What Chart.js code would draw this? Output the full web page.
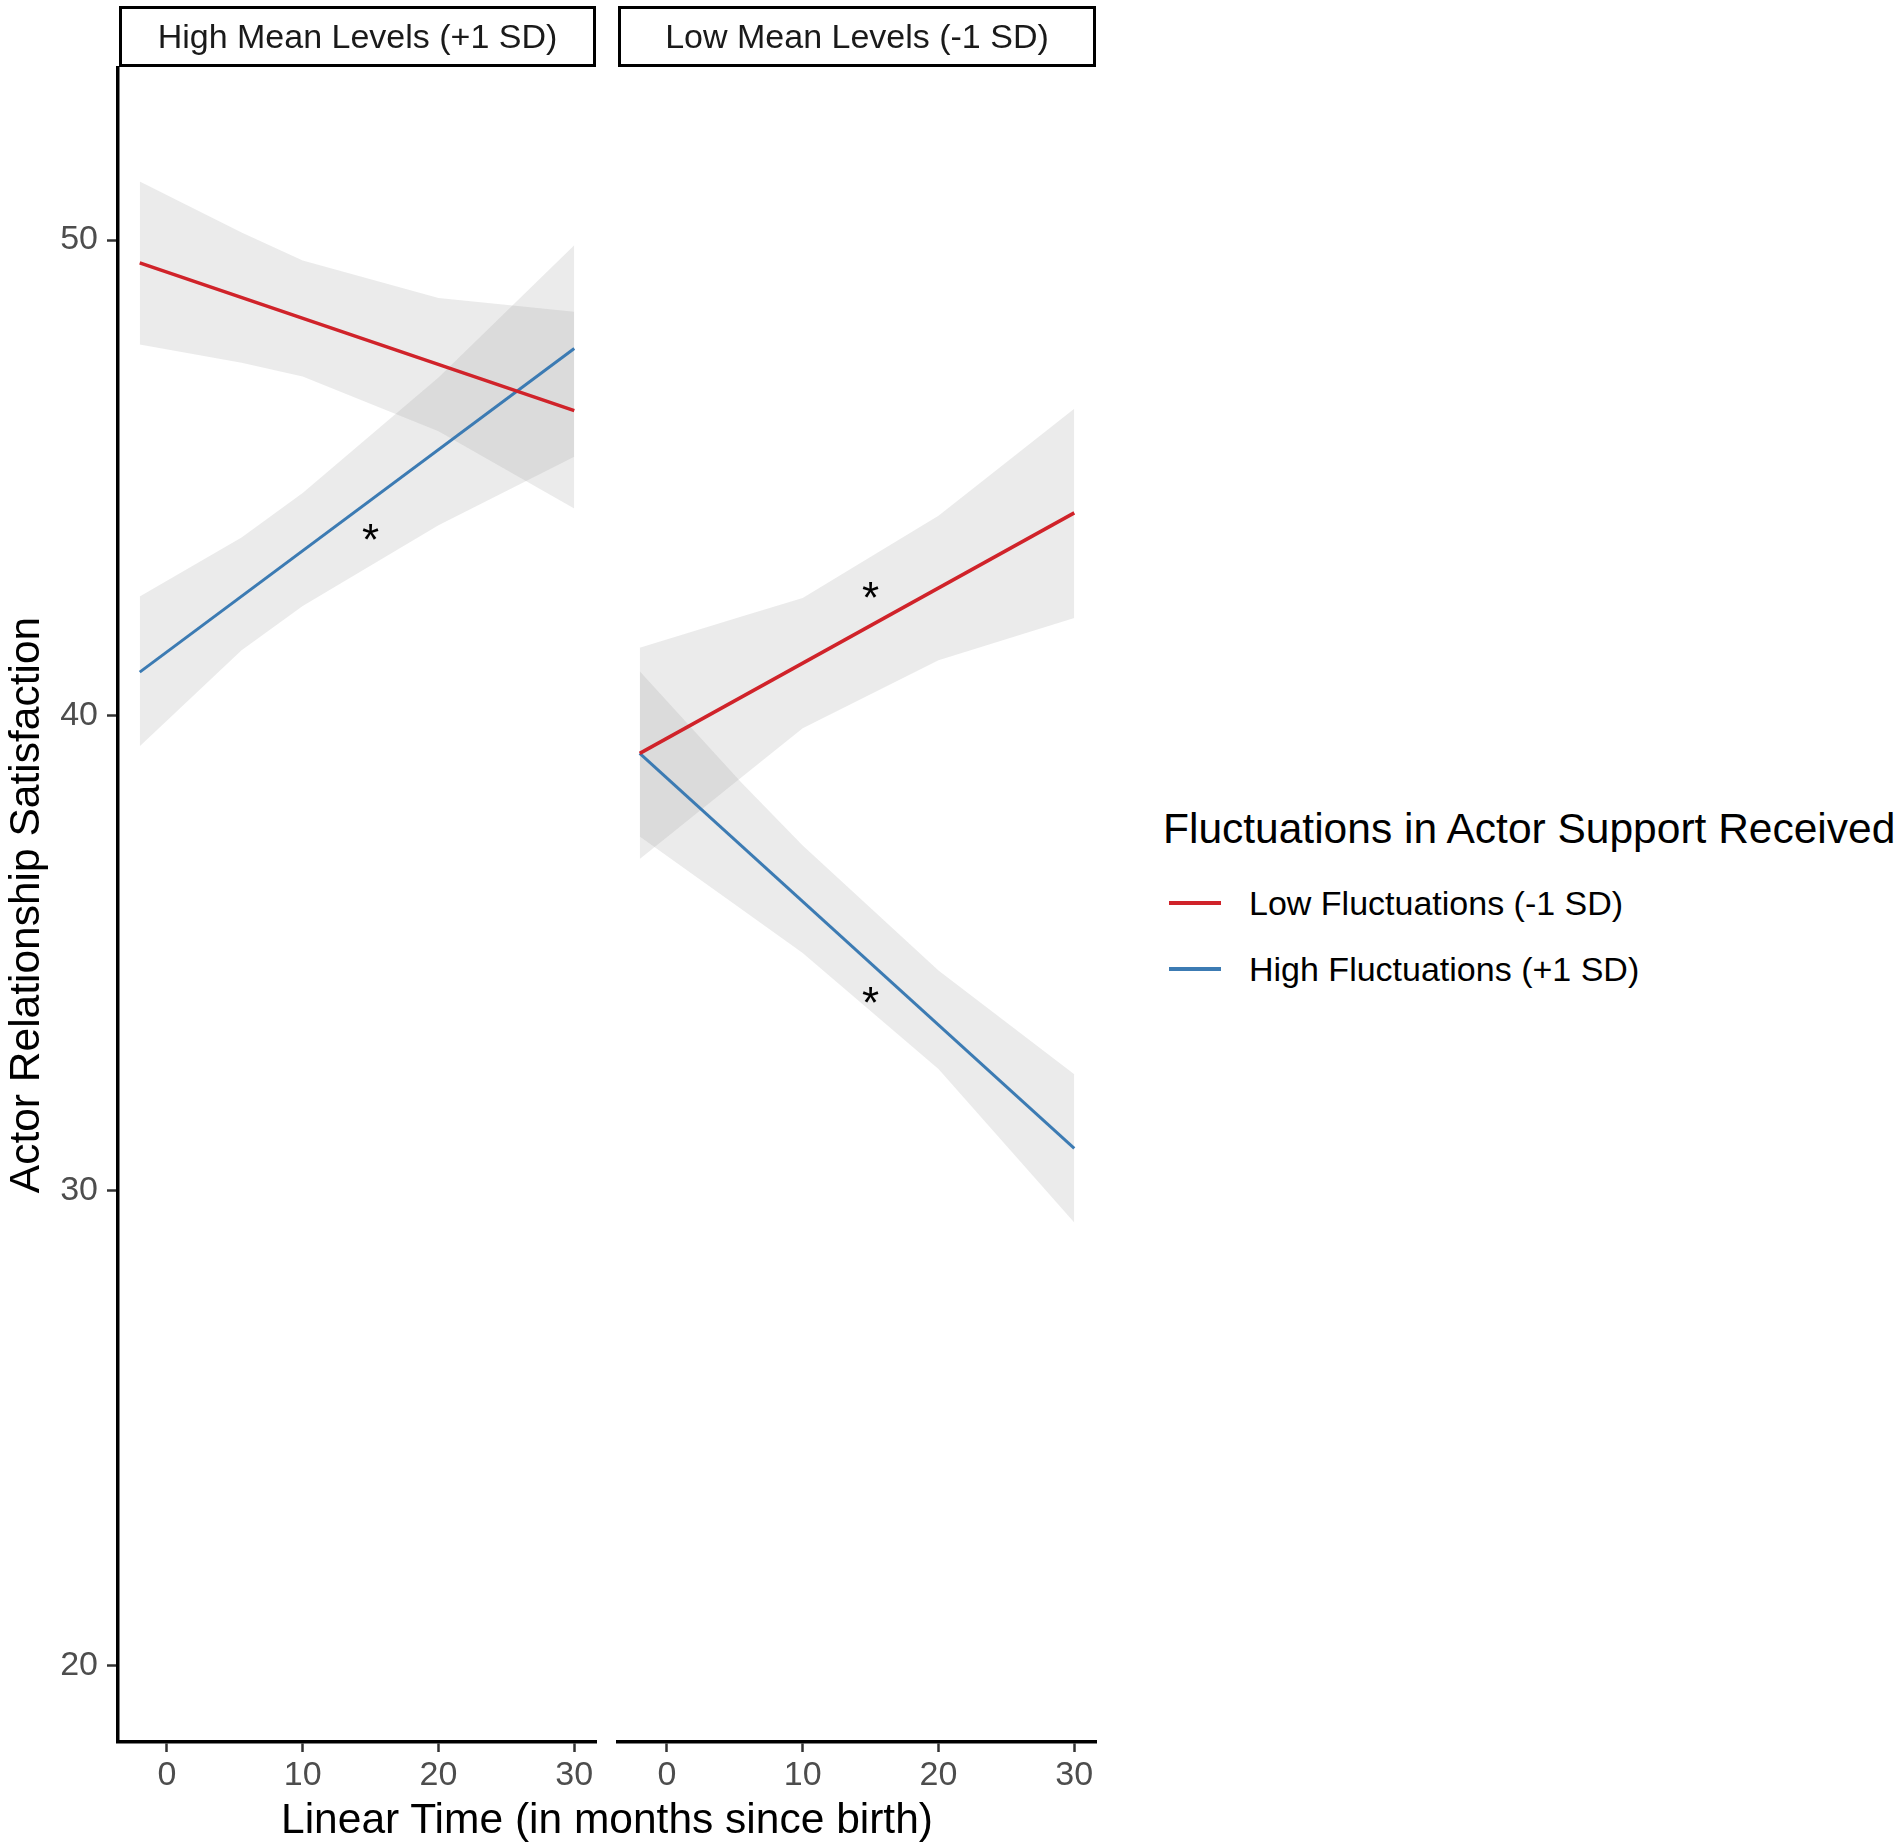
<!DOCTYPE html>
<html lang="en">
  <head>
    <meta charset="UTF-8" />
    <title>Actor Relationship Satisfaction</title>
    <style>
      body {
        margin: 0;
        background: #fff;
        font-family: "Liberation Sans", Arial, sans-serif;
      }
      #page {
        position: relative;
        width: 1900px;
        height: 1845px;
        overflow: hidden;
      }
      canvas {
        position: absolute;
        top: 0;
      }
      .strip {
        position: absolute;
        top: 6px;
        height: 61px;
        box-sizing: border-box;
        border: 3px solid #000;
        font-size: 34px;
        color: #1a1a1a;
        display: flex;
        align-items: center;
        justify-content: center;
        white-space: nowrap;
      }
      .xtitle {
        position: absolute;
        left: 0;
        width: 1214px;
        top: 1794px;
        line-height: 50px;
        font-size: 42.5px;
        text-align: center;
        color: #000;
      }
      .legend-title {
        position: absolute;
        left: 1163px;
        top: 804px;
        line-height: 50px;
        font-size: 42.5px;
        color: #000;
        white-space: nowrap;
      }
      .legend-key {
        position: absolute;
        left: 1169px;
        width: 52px;
        height: 3.5px;
      }
      .legend-label {
        position: absolute;
        left: 1249px;
        line-height: 40px;
        font-size: 34px;
        color: #000;
        white-space: nowrap;
      }
    </style>
  </head>
  <body>
    <div id="page">
      <canvas id="panelHigh" width="600" height="1845" style="left: 0"></canvas>
      <canvas id="panelLow" width="500" height="1845" style="left: 600px"></canvas>
      <div class="strip" id="stripHigh" style="left: 119px; width: 477px"></div>
      <div class="strip" id="stripLow" style="left: 618px; width: 478px"></div>
      <div class="xtitle">Linear Time (in months since birth)</div>
      <div class="legend-title">Fluctuations in Actor Support Received</div>
      <div id="legendItems"></div>
    </div>

    <script src="https://cdn.jsdelivr.net/npm/chart.js"></script>
    <script>
      const panelLabels = ["High Mean Levels (+1 SD)", "Low Mean Levels (-1 SD)"];
      const seriesLabels = ["Low Fluctuations (-1 SD)", "High Fluctuations (+1 SD)"];
      const seriesColors = ["#d0232a", "#3c7bb3"];

      const lineTime = [-2, 30];
      const ribbonTime = [-2, 5.5, 10, 20, 30];
      const xTicks = [0, 10, 20, 30];
      const yTicks = [20, 30, 40, 50];

      // high mean levels panel
      const highMeanLowFluct = [49.52, 46.41];
      const highMeanHighFluct = [40.91, 47.72];
      const highMeanLowFluctUpper = [51.23, 50.16, 49.57, 48.78, 48.49];
      const highMeanLowFluctLower = [47.8, 47.42, 47.13, 45.98, 44.35];
      const highMeanHighFluctUpper = [42.5, 43.74, 44.68, 47.11, 49.89];
      const highMeanHighFluctLower = [39.35, 41.37, 42.3, 44.0, 45.44];
      const starsHighMean = [[15, 43.85]];

      // low mean levels panel
      const lowMeanLowFluct = [39.2, 44.26];
      const lowMeanHighFluct = [39.2, 30.89];
      const lowMeanLowFluctUpper = [41.42, 42.08, 42.47, 44.2, 46.45];
      const lowMeanLowFluctLower = [36.98, 38.7, 39.73, 41.16, 42.05];
      const lowMeanHighFluctUpper = [40.93, 38.58, 37.26, 34.63, 32.45];
      const lowMeanHighFluctLower = [37.45, 35.92, 35.0, 32.56, 29.33];
      const starsLowMean = [[15, 42.63], [15, 34.12]];

      const fontFamily = '"Liberation Sans", Arial, sans-serif';
      const ribbonFill = "rgba(153, 153, 153, 0.2)";

      Chart.defaults.font.family = fontFamily;

      document.getElementById("stripHigh").textContent = panelLabels[0];
      document.getElementById("stripLow").textContent = panelLabels[1];

      // legend
      const legendBox = document.getElementById("legendItems");
      const legendY = [903, 969];
      seriesLabels.forEach((label, i) => {
        const key = document.createElement("div");
        key.className = "legend-key";
        key.style.top = legendY[i] - 1.75 + "px";
        key.style.background = seriesColors[i];
        const text = document.createElement("div");
        text.className = "legend-label";
        text.style.top = legendY[i] - 20 + "px";
        text.textContent = label;
        legendBox.appendChild(key);
        legendBox.appendChild(text);
      });

      function toPoints(xs, ys) {
        return xs.map((x, i) => ({ x: x, y: ys[i] }));
      }

      function lineSet(label, values, color, width) {
        return {
          label: label,
          data: toPoints(lineTime, values),
          borderColor: color,
          borderWidth: width,
          pointRadius: 0,
          fill: false,
          tension: 0,
          order: 0,
        };
      }

      function ribbonSet(values, fill) {
        return {
          data: toPoints(ribbonTime, values),
          borderColor: "rgba(0,0,0,0)",
          borderWidth: 1,
          pointRadius: 0,
          backgroundColor: ribbonFill,
          fill: fill,
          tension: 0,
          order: 1,
        };
      }

      const starPlugin = {
        id: "stars",
        afterDatasetsDraw(chart, args, opts) {
          const { ctx } = chart;
          const x = chart.scales.x;
          const y = chart.scales.y;
          ctx.save();
          ctx.font = "44px " + fontFamily;
          ctx.fillStyle = "#000";
          ctx.textAlign = "center";
          ctx.textBaseline = "alphabetic";
          const m = ctx.measureText("*");
          (opts.points || []).forEach((p) => {
            const px = x.getPixelForValue(p[0]);
            const py =
              y.getPixelForValue(p[1]) +
              (m.actualBoundingBoxAscent - m.actualBoundingBoxDescent) / 2;
            ctx.fillText("*", px, py);
          });
          ctx.restore();
        },
      };

      function panelOptions(showY, padLeft, stars) {
        return {
          responsive: false,
          animation: false,
          devicePixelRatio: 1,
          layout: { padding: { left: padLeft, right: 4, top: 68, bottom: 0 } },
          plugins: {
            legend: { display: false },
            tooltip: { enabled: false },
            stars: { points: stars },
          },
          scales: {
            x: {
              type: "linear",
              min: -3.6,
              max: 31.6,
              afterBuildTicks: (s) => {
                s.ticks = xTicks.map((v) => ({ value: v }));
              },
              afterFit: (s) => {
                s.height = 103;
              },
              grid: {
                display: true,
                drawOnChartArea: false,
                drawTicks: true,
                tickLength: 10,
                tickWidth: 2.5,
                tickColor: "#333",
              },
              border: { display: true, color: "#000", width: 3.5 },
              ticks: {
                font: { size: 34 },
                color: "#4d4d4d",
                padding: 3,
                maxRotation: 0,
                autoSkip: false,
              },
            },
            y: {
              type: "linear",
              display: showY,
              min: 18.4,
              max: 53.62,
              afterBuildTicks: (s) => {
                s.ticks = yTicks.map((v) => ({ value: v }));
              },
              afterFit: (s) => {
                if (showY) s.width = 118;
              },
              grid: {
                display: true,
                drawOnChartArea: false,
                drawTicks: true,
                tickLength: 11,
                tickWidth: 2.5,
                tickColor: "#333",
              },
              border: { display: true, color: "#000", width: 3.5 },
              ticks: {
                font: { size: 34 },
                color: "#4d4d4d",
                padding: 9,
                autoSkip: false,
              },
              title: {
                display: true,
                text: "Actor Relationship Satisfaction",
                font: { size: 42.5 },
                color: "#000",
                padding: { top: 2, bottom: 0 },
              },
            },
          },
        };
      }

      new Chart(document.getElementById("panelHigh"), {
        type: "line",
        data: {
          datasets: [
            lineSet(seriesLabels[0], highMeanLowFluct, seriesColors[0], 3.5),
            lineSet(seriesLabels[1], highMeanHighFluct, seriesColors[1], 3),
            ribbonSet(highMeanLowFluctUpper, "+1"),
            ribbonSet(highMeanLowFluctLower, false),
            ribbonSet(highMeanHighFluctUpper, "+1"),
            ribbonSet(highMeanHighFluctLower, false),
          ],
        },
        options: panelOptions(true, 0, starsHighMean),
        plugins: [starPlugin],
      });

      new Chart(document.getElementById("panelLow"), {
        type: "line",
        data: {
          datasets: [
            lineSet(seriesLabels[0], lowMeanLowFluct, seriesColors[0], 3.5),
            lineSet(seriesLabels[1], lowMeanHighFluct, seriesColors[1], 3),
            ribbonSet(lowMeanLowFluctUpper, "+1"),
            ribbonSet(lowMeanLowFluctLower, false),
            ribbonSet(lowMeanHighFluctUpper, "+1"),
            ribbonSet(lowMeanHighFluctLower, false),
          ],
        },
        options: panelOptions(false, 18, starsLowMean),
        plugins: [starPlugin],
      });
    </script>
  </body>
</html>
